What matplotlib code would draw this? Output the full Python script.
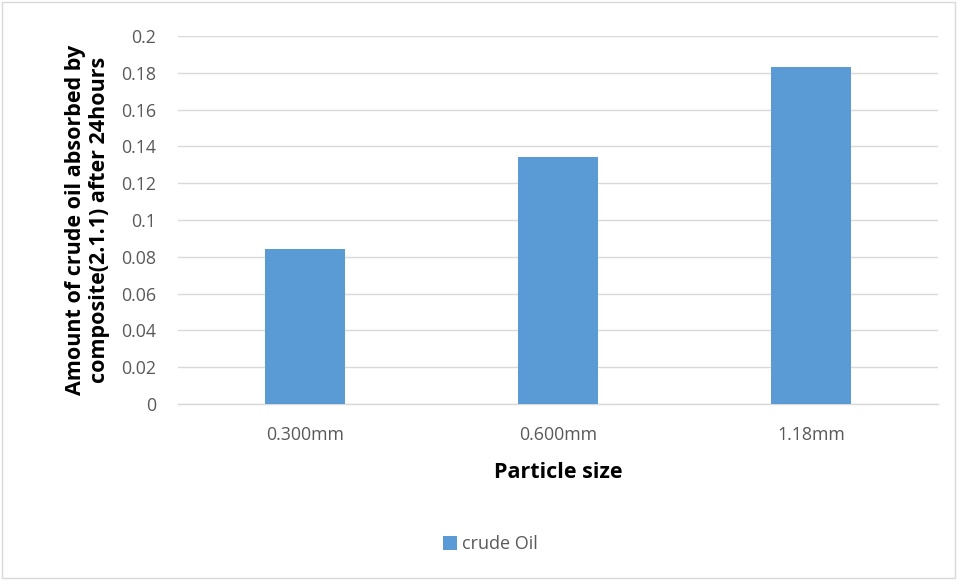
import numpy as np
import matplotlib.pyplot as plt
from matplotlib.patches import Rectangle

sizes = ['0.300mm', '0.600mm', '1.18mm']
absorbed = [0.084, 0.134, 0.183]
yticks = [0, 0.02, 0.04, 0.06, 0.08, 0.1, 0.12, 0.14, 0.16, 0.18, 0.2]
series_name = 'crude Oil'

plt.rcParams['font.family'] = ['Open Sans', 'DejaVu Sans']
text_col = '#595959'
bar_col = '#5b9bd5'

fig = plt.figure(figsize=(9.57, 5.80), dpi=100)
W, H = 957, 580
ax = fig.add_axes([178 / W, 1 - 404 / H, 760 / W, 368 / H])

x = np.arange(len(sizes))
ax.bar(x, absorbed, width=0.315, color=bar_col, label=series_name, zorder=3)

ax.set_xlim(-0.5, len(sizes) - 0.5)
ax.set_ylim(0, 0.2)
ax.set_yticks(yticks)
ax.set_yticklabels([f'{v:g}' for v in yticks])
ax.set_xticks(x)
ax.set_xticklabels(sizes)
ax.tick_params(axis='both', length=0, labelsize=12.8, colors=text_col)
ax.tick_params(axis='x', pad=16)
ax.tick_params(axis='y', pad=16)
ax.grid(axis='y', color='#d9d9d9', linewidth=1, zorder=0)

for s in ['top', 'right', 'left']:
    ax.spines[s].set_visible(False)
ax.spines['bottom'].set_color('#d9d9d9')
ax.spines['bottom'].set_linewidth(1)

ax.set_xlabel('Particle size', fontsize=15.5, fontweight='bold', color='black', labelpad=13)
ax.set_ylabel('Amount of crude oil absorbed by\ncomposite(2.1.1) after 24hours',
              fontsize=15.5, fontweight='bold', color='black', labelpad=8,
              linespacing=1.15)

leg = fig.legend(loc='center', bbox_to_anchor=(490 / W, 1 - 544 / H), frameon=False,
                 fontsize=13, handlelength=0.8, handleheight=0.8, handletextpad=0.25)
for t in leg.get_texts():
    t.set_color(text_col)

# chart border
fig.patches.append(Rectangle((2 / W, 2 / H), 1 - 4 / W, 1 - 4 / H, transform=fig.transFigure,
                             fill=False, edgecolor='#d9d9d9', linewidth=1))

fig.savefig('out.png', dpi=100)
